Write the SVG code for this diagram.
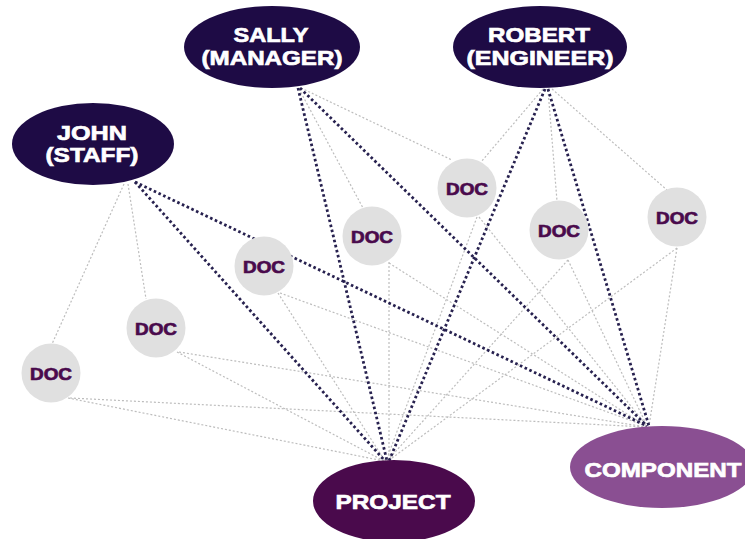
<svg xmlns="http://www.w3.org/2000/svg" width="745" height="539" viewBox="0 0 745 539">
  <style>
    .person { fill: #1e0b45; }
    .project { fill: #4a0a4c; }
    .component { fill: #8a4f92; }
    .doc circle { fill: #e0e0e0; }
    .label { font-family: "Liberation Sans", Arial, sans-serif; font-weight: bold; fill: #ffffff; stroke: #ffffff; stroke-width: 0.7; text-anchor: middle; }
    .big { font-size: 21px; }
    .doctext { font-family: "Liberation Sans", Arial, sans-serif; font-weight: bold; font-size: 17px; fill: #4a0a4c; stroke: #4a0a4c; stroke-width: 0.7; text-anchor: middle; }
    .weak { stroke: #bdbdbd; stroke-width: 1.2; stroke-dasharray: 2 2; fill: none; }
    .strong { stroke: #27214f; stroke-width: 2.8; stroke-dasharray: 2.6 2.6; fill: none; }
  </style>
  <rect width="745" height="539" fill="#ffffff"/>

  <g id="connectors">
    <!-- people to documents -->
    <line class="weak" x1="124" y1="184" x2="52" y2="344"/>
    <line class="weak" x1="128" y1="184" x2="146" y2="299"/>
    <line class="weak" x1="299" y1="89" x2="363" y2="208"/>
    <line class="weak" x1="301" y1="88" x2="452" y2="160"/>
    <line class="weak" x1="543" y1="89" x2="481" y2="162"/>
    <line class="weak" x1="548" y1="90" x2="557" y2="201"/>
    <line class="weak" x1="552" y1="89" x2="667" y2="190"/>
    <!-- documents to project -->
    <line class="weak" x1="68" y1="398" x2="384" y2="461"/>
    <line class="weak" x1="177" y1="352" x2="384" y2="461"/>
    <line class="weak" x1="278" y1="293" x2="385" y2="461"/>
    <line class="weak" x1="389" y1="262" x2="389" y2="461"/>
    <line class="weak" x1="477" y1="217" x2="386" y2="461"/>
    <line class="weak" x1="568" y1="260" x2="387" y2="461"/>
    <line class="weak" x1="677" y1="248" x2="388" y2="461"/>
    <!-- documents to component -->
    <line class="weak" x1="70" y1="398" x2="646" y2="427"/>
    <line class="weak" x1="179" y1="352" x2="646" y2="427"/>
    <line class="weak" x1="280" y1="293" x2="646" y2="426"/>
    <line class="weak" x1="389" y1="263" x2="646" y2="426"/>
    <line class="weak" x1="479" y1="217" x2="647" y2="426"/>
    <line class="weak" x1="568" y1="260" x2="647" y2="426"/>
    <line class="weak" x1="677" y1="248" x2="649" y2="426"/>
    <!-- people to project and component -->
    <line class="strong" x1="135" y1="182" x2="385" y2="461"/>
    <line class="strong" x1="135" y1="182" x2="647" y2="426"/>
    <line class="strong" x1="298" y1="88" x2="387" y2="461"/>
    <line class="strong" x1="300" y1="88" x2="647" y2="426"/>
    <line class="strong" x1="545" y1="89" x2="389" y2="461"/>
    <line class="strong" x1="548" y1="89" x2="649" y2="426"/>
  </g>

  <g id="sally">
    <ellipse class="person" cx="272" cy="47" rx="88" ry="41"/>
    <text class="label big" x="271" y="42" textLength="75" lengthAdjust="spacingAndGlyphs">SALLY</text>
    <text class="label big" x="272" y="65" textLength="141" lengthAdjust="spacingAndGlyphs">(MANAGER)</text>
  </g>

  <g id="robert">
    <ellipse class="person" cx="540" cy="47" rx="87" ry="41"/>
    <text class="label big" x="539" y="42" textLength="102" lengthAdjust="spacingAndGlyphs">ROBERT</text>
    <text class="label big" x="540" y="65" textLength="147" lengthAdjust="spacingAndGlyphs">(ENGINEER)</text>
  </g>

  <g id="john">
    <ellipse class="person" cx="93" cy="144" rx="81" ry="41"/>
    <text class="label big" x="92" y="140" textLength="70" lengthAdjust="spacingAndGlyphs">JOHN</text>
    <text class="label big" x="92" y="162" textLength="93" lengthAdjust="spacingAndGlyphs">(STAFF)</text>
  </g>

  <g id="doc-1" class="doc">
    <circle cx="51" cy="373" r="29.5"/>
    <text class="doctext" x="51" y="380" textLength="42" lengthAdjust="spacingAndGlyphs">DOC</text>
  </g>
  <g id="doc-2" class="doc">
    <circle cx="156" cy="328" r="29.5"/>
    <text class="doctext" x="156" y="335" textLength="42" lengthAdjust="spacingAndGlyphs">DOC</text>
  </g>
  <g id="doc-3" class="doc">
    <circle cx="264" cy="266" r="29.5"/>
    <text class="doctext" x="264" y="273" textLength="42" lengthAdjust="spacingAndGlyphs">DOC</text>
  </g>
  <g id="doc-4" class="doc">
    <circle cx="372" cy="236" r="29.5"/>
    <text class="doctext" x="372" y="243" textLength="42" lengthAdjust="spacingAndGlyphs">DOC</text>
  </g>
  <g id="doc-5" class="doc">
    <circle cx="467" cy="188" r="29.5"/>
    <text class="doctext" x="467" y="195" textLength="42" lengthAdjust="spacingAndGlyphs">DOC</text>
  </g>
  <g id="doc-6" class="doc">
    <circle cx="559" cy="230" r="29.5"/>
    <text class="doctext" x="559" y="237" textLength="42" lengthAdjust="spacingAndGlyphs">DOC</text>
  </g>
  <g id="doc-7" class="doc">
    <circle cx="677" cy="217" r="29.5"/>
    <text class="doctext" x="677" y="224" textLength="42" lengthAdjust="spacingAndGlyphs">DOC</text>
  </g>

  <g id="project">
    <ellipse class="project" cx="394" cy="501" rx="81" ry="41"/>
    <text class="label big" x="393" y="509" textLength="115" lengthAdjust="spacingAndGlyphs">PROJECT</text>
  </g>

  <g id="component">
    <ellipse class="component" cx="662" cy="467" rx="92" ry="41"/>
    <text class="label big" x="663" y="477" textLength="157" lengthAdjust="spacingAndGlyphs">COMPONENT</text>
  </g>
</svg>
